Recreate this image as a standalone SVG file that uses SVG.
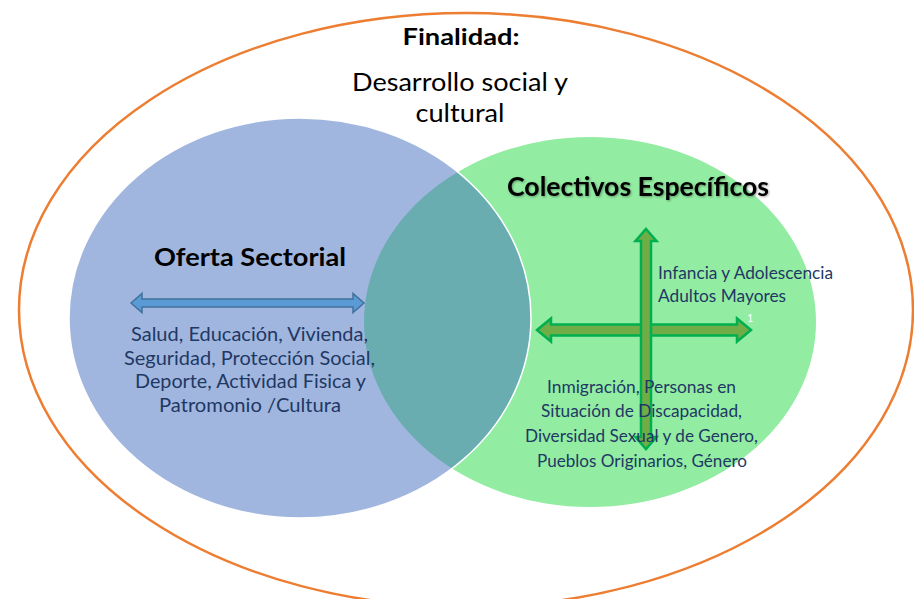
<svg xmlns="http://www.w3.org/2000/svg" width="914" height="599" viewBox="0 0 914 599">
  <style>
    .t { font-family: Lato, "Open Sans", "Liberation Sans", sans-serif; text-anchor: middle; }
    .b { font-weight: bold; fill: #000000; }
    .list { fill: #1f3864; }
    .blue-arrow { fill: #5b9bd5; stroke: #41719c; stroke-width: 1.5; stroke-linejoin: miter; }
    .green-arrow { fill: #70ad47; stroke: #00b050; stroke-width: 2.5; stroke-linejoin: miter; }
  </style>
  <defs>
    <clipPath id="clipBlue">
      <ellipse cx="300" cy="318" rx="231" ry="200"/>
    </clipPath>
    <filter id="shadow" x="-5%" y="-30%" width="110%" height="160%">
      <feDropShadow dx="1" dy="1" stdDeviation="1" flood-color="#000000" flood-opacity="0.35"/>
    </filter>
  </defs>
  <rect x="0" y="0" width="914" height="599" fill="#ffffff"/>

  <g id="finalidad">
    <ellipse cx="466" cy="310" rx="447" ry="297" fill="none" stroke="#ed7d31" stroke-width="2.5"/>
    <text class="t b" x="461" y="45" font-size="23.5" textLength="117" lengthAdjust="spacingAndGlyphs">Finalidad:</text>
    <text class="t" x="460" y="91" font-size="25" fill="#000000" textLength="216" lengthAdjust="spacingAndGlyphs">Desarrollo social y</text>
    <text class="t" x="460" y="122" font-size="25" fill="#000000" textLength="89" lengthAdjust="spacingAndGlyphs">cultural</text>
  </g>

  <g id="colectivos-especificos">
    <ellipse cx="590" cy="322" rx="226" ry="185" fill="#92eca2"/>
  </g>

  <g id="oferta-sectorial">
    <ellipse cx="300" cy="318" rx="231" ry="200" fill="#a0b6de"/>
  </g>

  <g id="interseccion">
    <ellipse cx="590" cy="322" rx="226" ry="185" fill="#69adb1" clip-path="url(#clipBlue)"/>
    <ellipse cx="300" cy="318" rx="231" ry="200" fill="none" stroke="#ffffff" stroke-width="1.5"/>
  </g>

  <g id="connectors">
    <path class="blue-arrow" d="M131,303 L142,293.5 L142,299 L353,299 L353,293.5 L364,303 L353,312.5 L353,307 L142,307 L142,312.5 Z"/>
    <path class="green-arrow" d="M537,330 L551,318.5 L551,324.5 L737,324.5 L737,318.5 L751,330 L737,341.5 L737,335.5 L551,335.5 L551,341.5 Z"/>
    <path class="green-arrow" d="M646,229 L656.5,241 L651,241 L651,437 L656.5,437 L646,449 L635.5,437 L641,437 L641,241 L635.5,241 Z"/>
  </g>

  <g id="oferta-texts">
    <text class="t b" x="250" y="266" font-size="25" textLength="192" lengthAdjust="spacingAndGlyphs">Oferta Sectorial</text>
    <text class="t list" x="249.5" y="341" font-size="19" textLength="237" lengthAdjust="spacingAndGlyphs">Salud, Educación, Vivienda,</text>
    <text class="t list" x="249.5" y="365" font-size="19" textLength="251" lengthAdjust="spacingAndGlyphs">Seguridad, Protección Social,</text>
    <text class="t list" x="250.5" y="388" font-size="19" textLength="231" lengthAdjust="spacingAndGlyphs">Deporte, Actividad Fisica y</text>
    <text class="t list" x="250" y="412" font-size="19" textLength="182" lengthAdjust="spacingAndGlyphs">Patromonio /Cultura</text>
  </g>

  <g id="colectivos-texts">
    <text class="t b" x="638" y="196" font-size="26" filter="url(#shadow)" textLength="262" lengthAdjust="spacingAndGlyphs">Colectivos Específicos</text>
    <text class="list" font-family="Lato, 'Open Sans', 'Liberation Sans', sans-serif" x="658" y="279" font-size="17" textLength="175" lengthAdjust="spacingAndGlyphs">Infancia y Adolescencia</text>
    <text class="list" font-family="Lato, 'Open Sans', 'Liberation Sans', sans-serif" x="658" y="302" font-size="17" textLength="128" lengthAdjust="spacingAndGlyphs">Adultos Mayores</text>
    <text font-family="Lato, 'Open Sans', 'Liberation Sans', sans-serif" x="747" y="322" font-size="11" fill="#ffffff">1</text>
    <text class="t list" x="641.5" y="393" font-size="17" textLength="189" lengthAdjust="spacingAndGlyphs">Inmigración, Personas en</text>
    <text class="t list" x="641.5" y="417" font-size="17" textLength="201" lengthAdjust="spacingAndGlyphs">Situación de Discapacidad,</text>
    <text class="t list" x="641.5" y="442" font-size="17" textLength="233" lengthAdjust="spacingAndGlyphs">Diversidad Sexual y de Genero,</text>
    <text class="t list" x="642" y="467" font-size="17" textLength="210" lengthAdjust="spacingAndGlyphs">Pueblos Originarios, Género</text>
  </g>
</svg>
